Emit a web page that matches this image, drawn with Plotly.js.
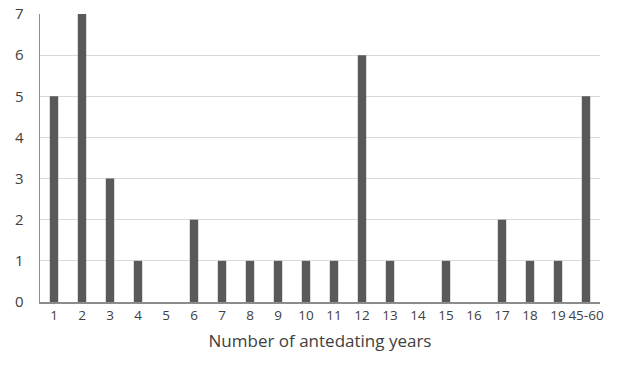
<!DOCTYPE html>
<html>
<head>
<meta charset="utf-8">
<script src="https://cdn.plot.ly/plotly-3.0.1.min.js"></script>
<style>html,body{margin:0;padding:0;background:#fff;}#chart{width:635px;height:366px;}</style>
</head>
<body>
<div id="chart"></div>
<script>
const categories = ["1","2","3","4","5","6","7","8","9","10","11","12","13","14","15","16","17","18","19","45-60"];
const counts = [5,7,3,1,0,2,1,1,1,1,1,6,1,0,1,0,2,1,1,5];
const yTicks = [0,1,2,3,4,5,6,7];

const trace = {
  type: 'bar',
  x: categories,
  y: counts,
  marker: {color: '#595959', line: {width: 0}},
  hoverinfo: 'skip'
};

const layout = {
  width: 635, height: 366,
  margin: {l: 40, r: 35, t: 14, b: 64},
  paper_bgcolor: '#ffffff', plot_bgcolor: '#ffffff',
  bargap: 0.7,
  showlegend: false,
  font: {family: 'Open Sans, Noto Sans, sans-serif', color: '#404040', size: 13},
  xaxis: {
    type: 'category',
    showline: true, linecolor: '#8c8c8c', linewidth: 1.5,
    showgrid: false, ticks: '',
    tickangle: 0,
    tickfont: {size: 13.5, color: '#404040'},
    title: {text: 'Number of antedating years', font: {size: 17, color: '#404040'}, standoff: 12}
  },
  yaxis: {
    range: [0, 7],
    tickvals: yTicks,
    showline: true, linecolor: '#8c8c8c', linewidth: 1.5,
    showgrid: true, gridcolor: '#d9d9d9', gridwidth: 1,
    zeroline: false, ticks: '',
    ticklabelstandoff: 12,
    tickfont: {size: 15, color: '#404040'}
  }
};

Plotly.newPlot('chart', [trace], layout, {displayModeBar: false, staticPlot: true});
</script>
</body>
</html>
